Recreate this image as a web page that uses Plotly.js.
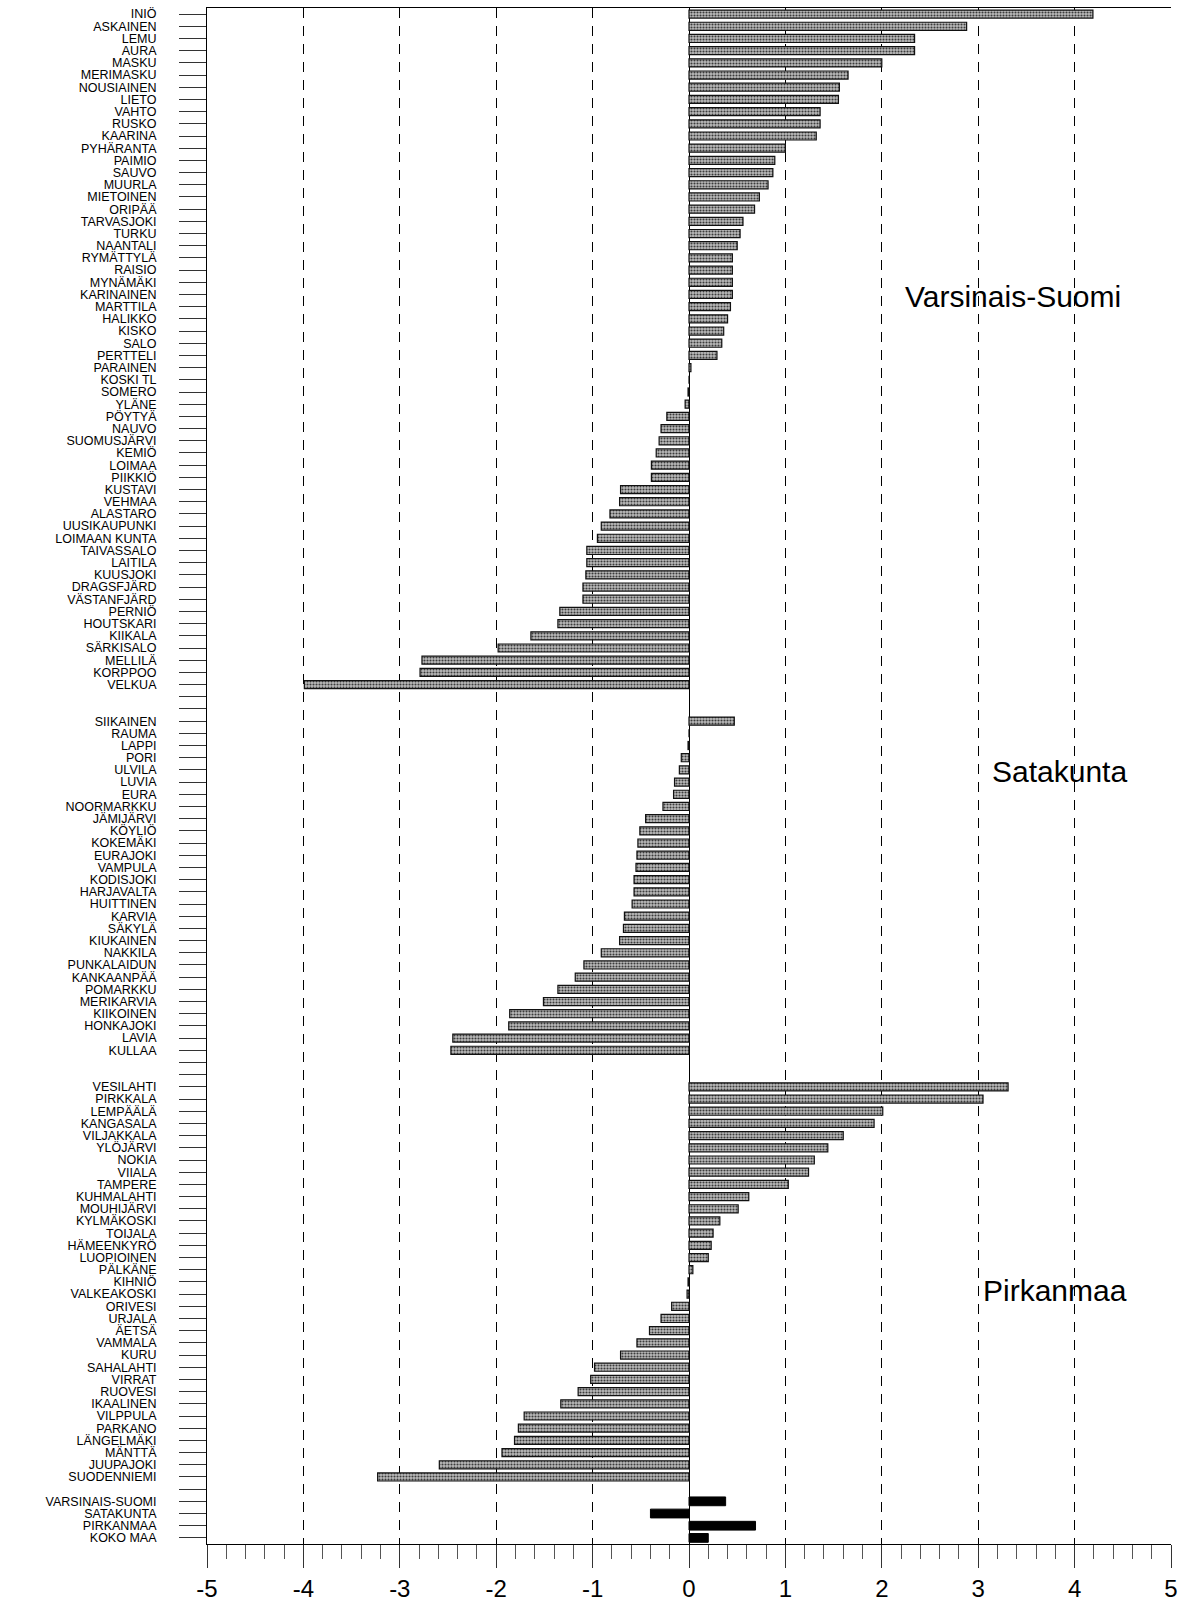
<!DOCTYPE html>
<html>
<head>
<meta charset="utf-8">
<script src="https://cdn.plot.ly/plotly-3.0.1.min.js"></script>
<style>html,body{margin:0;padding:0;background:#fff;}#chart{width:1182px;height:1603px;}</style>
</head>
<body>
<div id="chart"></div>
<script>
// ---- Data ----
const vsNames = ["INIÖ","ASKAINEN","LEMU","AURA","MASKU","MERIMASKU","NOUSIAINEN","LIETO","VAHTO","RUSKO","KAARINA","PYHÄRANTA","PAIMIO","SAUVO","MUURLA","MIETOINEN","ORIPÄÄ","TARVASJOKI","TURKU","NAANTALI","RYMÄTTYLÄ","RAISIO","MYNÄMÄKI","KARINAINEN","MARTTILA","HALIKKO","KISKO","SALO","PERTTELI","PARAINEN","KOSKI TL","SOMERO","YLÄNE","PÖYTYÄ","NAUVO","SUOMUSJÄRVI","KEMIÖ","LOIMAA","PIIKKIÖ","KUSTAVI","VEHMAA","ALASTARO","UUSIKAUPUNKI","LOIMAAN KUNTA","TAIVASSALO","LAITILA","KUUSJOKI","DRAGSFJÄRD","VÄSTANFJÄRD","PERNIÖ","HOUTSKARI","KIIKALA","SÄRKISALO","MELLILÄ","KORPPOO","VELKUA"];
const vsValues = [4.19,2.88,2.34,2.34,2.00,1.65,1.56,1.55,1.36,1.36,1.32,1.00,0.89,0.87,0.82,0.73,0.68,0.56,0.53,0.50,0.45,0.45,0.45,0.45,0.43,0.40,0.36,0.34,0.29,0.02,0.00,-0.01,-0.04,-0.23,-0.29,-0.31,-0.34,-0.39,-0.39,-0.71,-0.72,-0.82,-0.91,-0.95,-1.06,-1.06,-1.07,-1.10,-1.10,-1.34,-1.36,-1.64,-1.98,-2.77,-2.79,-3.99];

const stNames = ["SIIKAINEN","RAUMA","LAPPI","PORI","ULVILA","LUVIA","EURA","NOORMARKKU","JÄMIJÄRVI","KÖYLIÖ","KOKEMÄKI","EURAJOKI","VAMPULA","KODISJOKI","HARJAVALTA","HUITTINEN","KARVIA","SÄKYLÄ","KIUKAINEN","NAKKILA","PUNKALAIDUN","KANKAANPÄÄ","POMARKKU","MERIKARVIA","KIIKOINEN","HONKAJOKI","LAVIA","KULLAA"];
const stValues = [0.47,0.00,-0.01,-0.08,-0.10,-0.15,-0.16,-0.27,-0.45,-0.51,-0.53,-0.54,-0.55,-0.57,-0.57,-0.59,-0.67,-0.68,-0.72,-0.91,-1.09,-1.18,-1.36,-1.51,-1.86,-1.87,-2.45,-2.47];

const pmNames = ["VESILAHTI","PIRKKALA","LEMPÄÄLÄ","KANGASALA","VILJAKKALA","YLÖJÄRVI","NOKIA","VIIALA","TAMPERE","KUHMALAHTI","MOUHIJÄRVI","KYLMÄKOSKI","TOIJALA","HÄMEENKYRÖ","LUOPIOINEN","PÄLKÄNE","KIHNIÖ","VALKEAKOSKI","ORIVESI","URJALA","ÄETSÄ","VAMMALA","KURU","SAHALAHTI","VIRRAT","RUOVESI","IKAALINEN","VILPPULA","PARKANO","LÄNGELMÄKI","MÄNTTÄ","JUUPAJOKI","SUODENNIEMI"];
const pmValues = [3.31,3.05,2.01,1.92,1.60,1.44,1.30,1.24,1.03,0.62,0.51,0.32,0.25,0.23,0.20,0.04,-0.01,-0.02,-0.18,-0.29,-0.41,-0.54,-0.71,-0.98,-1.02,-1.15,-1.33,-1.71,-1.77,-1.81,-1.94,-2.59,-3.23];

const sumNames = ["VARSINAIS-SUOMI","SATAKUNTA","PIRKANMAA","KOKO MAA"];
const sumValues = [0.38,-0.40,0.69,0.20];

const regionLabels = ["Varsinais-Suomi","Satakunta","Pirkanmaa"];
const xTickVals = [-5,-4,-3,-2,-1,0,1,2,3,4,5];

// ---- Build rows (blank rows between groups) ----
const groups = [
  {names: vsNames, values: vsValues, summary: false, gapAfter: 2},
  {names: stNames, values: stValues, summary: false, gapAfter: 2},
  {names: pmNames, values: pmValues, summary: false, gapAfter: 1},
  {names: sumNames, values: sumValues, summary: true, gapAfter: 0}
];
const tickvals = [], ticktext = [];
const muniX = [], muniY = [], muniT = [], sumX = [], sumY = [], sumT = [];
let row = 0;
groups.forEach(g => {
  g.names.forEach((n, i) => {
    tickvals.push(row); ticktext.push(n);
    if (g.summary) { sumX.push(g.values[i]); sumY.push(row); sumT.push(n); }
    else { muniX.push(g.values[i]); muniY.push(row); muniT.push(n); }
    row++;
  });
  for (let k = 0; k < g.gapAfter; k++) { tickvals.push(row); ticktext.push(""); row++; }
});
const nRows = row;

const font = "Liberation Sans, Arial, Helvetica, sans-serif";

const traces = [
  {
    type: "bar", orientation: "h", x: muniX, y: muniY, text: muniT,
    hoverinfo: "text+x", textposition: "none", width: 0.66,
    marker: {
      color: "#999",
      line: {color: "#111", width: 1.2},
      pattern: {shape: ".", fgcolor: "#3c3c3c", bgcolor: "#bcbcbc", size: 3, solidity: 0.4, fillmode: "replace"}
    }
  },
  {
    type: "bar", orientation: "h", x: sumX, y: sumY, text: sumT,
    hoverinfo: "text+x", textposition: "none", width: 0.72,
    marker: {color: "#000", line: {color: "#000", width: 1}}
  }
];

const annotations = [
  {text: regionLabels[0], x: 3.36, y: 23.2},
  {text: regionLabels[1], x: 3.84, y: 62.15},
  {text: regionLabels[2], x: 3.80, y: 104.7}
].map(a => Object.assign({xref: "x", yref: "y", showarrow: false, xanchor: "center", yanchor: "middle",
  font: {family: font, size: 30, color: "#000"}}, a));

const layout = {
  width: 1182, height: 1603,
  margin: {l: 207, r: 11, t: 8, b: 59},
  paper_bgcolor: "#fff", plot_bgcolor: "#fff",
  showlegend: false,
  barmode: "overlay",
  font: {family: font, color: "#000"},
  xaxis: {
    range: [-5, 5], tickvals: xTickVals, ticktext: xTickVals.map(String),
    ticks: "outside", ticklen: 23, tickwidth: 1, tickcolor: "#333",
    minor: {dtick: 0.2, tick0: 0, ticks: "outside", ticklen: 14, tickwidth: 1, tickcolor: "#555", showgrid: false},
    showgrid: true, gridcolor: "#000", gridwidth: 1, griddash: "10px,8px",
    zeroline: true, zerolinecolor: "#000", zerolinewidth: 1,
    showline: true, linecolor: "#000", linewidth: 1, mirror: true,
    tickfont: {family: font, size: 24, color: "#000"},
    ticklabelstandoff: 0,
    fixedrange: true
  },
  yaxis: {
    range: [nRows - 0.5, -0.5],
    tickmode: "array", tickvals: tickvals, ticktext: ticktext,
    ticks: "outside", ticklen: 27, tickwidth: 1, tickcolor: "#333",
    tickfont: {family: font, size: 12.5, color: "#000"},
    ticklabelstandoff: 20,
    showgrid: false, zeroline: false,
    showline: true, linecolor: "#000", linewidth: 1,
    fixedrange: true
  },
  annotations: annotations
};

Plotly.newPlot("chart", traces, layout, {displayModeBar: false, staticPlot: true});
</script>
</body>
</html>
